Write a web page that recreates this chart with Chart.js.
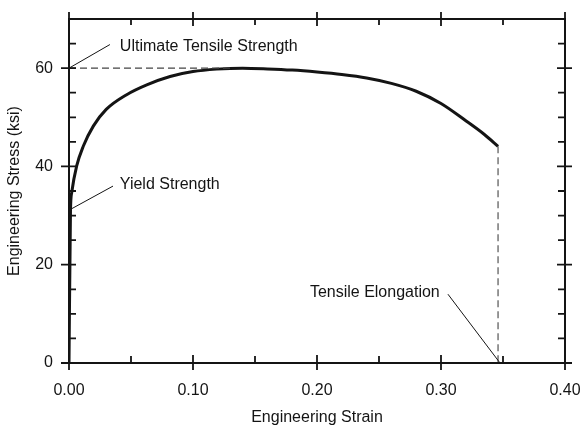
<!DOCTYPE html>
<html><head><meta charset="utf-8">
<script src="https://cdn.jsdelivr.net/npm/chart.js@4"></script>
<style>html,body{margin:0;padding:0;background:#fff}#wrap{width:580px;height:427px}</style>
</head><body><div id="wrap"><canvas id="c" width="580" height="427"></canvas></div>
<script>
// Data
const strain = [0, 0.0012, 0.0022, 0.0062, 0.0115, 0.0196, 0.030, 0.0465, 0.0627, 0.0815, 0.10, 0.119, 0.14, 0.16, 0.18, 0.20, 0.22, 0.24, 0.26, 0.28, 0.30, 0.32, 0.335, 0.346];
const stress = [0, 31.0, 34.7, 40.1, 44.1, 48.2, 51.6, 54.6, 56.6, 58.3, 59.3, 59.8, 60.0, 59.85, 59.6, 59.2, 58.7, 58.0, 56.9, 55.3, 52.8, 49.3, 46.5, 44.1];
const xTicks = [0, 0.1, 0.2, 0.3, 0.4];
const yTicks = [0, 20, 40, 60];
const xMinor = [0.05, 0.15, 0.25, 0.35];
const yMinor = [5, 10, 15, 25, 30, 35, 45, 50, 55, 65];
const utsValue = 60, utsDashEnd = 0.13;
const elongation = 0.346, fractureStress = 44.1;
const annotationText = ["Ultimate Tensile Strength", "Yield Strength", "Tensile Elongation"];
// label anchors in data units: [textX, textY, lineFromX, lineFromY, lineToX, lineToY]
const annotationPos = [
  [0.041, 64.4, 0.0, 60, 0.033, 64.8],
  [0.041, 36.3, 0.0022, 31.4, 0.0355, 36.0],
  [0.299, 14.4, 0.3056, 14.0, 0.3476, 0.0]
];
const xTitle = "Engineering Strain", yTitle = "Engineering Stress (ksi)";

const FONT = "'Liberation Sans', Arial, Helvetica, sans-serif";
const INK = '#141414';

const overlay = {
  id: 'overlay',
  afterDraw(chart) {
    const ctx = chart.ctx, a = chart.chartArea, xs = chart.scales.x, ys = chart.scales.y;
    ctx.save();
    ctx.strokeStyle = '#444'; ctx.lineWidth = 1.1; ctx.setLineDash([7, 4]);
    ctx.beginPath();
    ctx.moveTo(xs.getPixelForValue(0), ys.getPixelForValue(utsValue));
    ctx.lineTo(xs.getPixelForValue(utsDashEnd), ys.getPixelForValue(utsValue));
    ctx.moveTo(xs.getPixelForValue(elongation), ys.getPixelForValue(fractureStress));
    ctx.lineTo(xs.getPixelForValue(elongation), ys.getPixelForValue(0));
    ctx.stroke();
    ctx.setLineDash([]);
    ctx.strokeStyle = INK; ctx.lineWidth = 2;
    ctx.strokeRect(a.left, a.top, a.right - a.left, a.bottom - a.top);
    ctx.lineWidth = 1.8;
    ctx.beginPath();
    xTicks.forEach(v => { const p = xs.getPixelForValue(v);
      ctx.moveTo(p, a.bottom + 7); ctx.lineTo(p, a.bottom - 8);
      ctx.moveTo(p, a.top - 7); ctx.lineTo(p, a.top + 7); });
    xMinor.forEach(v => { const p = xs.getPixelForValue(v);
      ctx.moveTo(p, a.bottom); ctx.lineTo(p, a.bottom - 7);
      ctx.moveTo(p, a.top); ctx.lineTo(p, a.top + 6); });
    yTicks.forEach(v => { const p = ys.getPixelForValue(v);
      ctx.moveTo(a.left - 8, p); ctx.lineTo(a.left + 7, p);
      ctx.moveTo(a.right - 8, p); ctx.lineTo(a.right + 7, p); });
    yMinor.forEach(v => { const p = ys.getPixelForValue(v);
      ctx.moveTo(a.left, p); ctx.lineTo(a.left + 7, p);
      ctx.moveTo(a.right, p); ctx.lineTo(a.right - 7, p); });
    ctx.stroke();
    ctx.lineWidth = 1; ctx.strokeStyle = INK; ctx.fillStyle = INK;
    ctx.font = '16px ' + FONT; ctx.textBaseline = 'middle';
    annotationPos.forEach((p, i) => {
      ctx.beginPath();
      ctx.moveTo(xs.getPixelForValue(p[2]), ys.getPixelForValue(p[3]));
      ctx.lineTo(xs.getPixelForValue(p[4]), ys.getPixelForValue(p[5]));
      ctx.stroke();
      ctx.textAlign = i === 2 ? 'right' : 'left';
      ctx.fillText(annotationText[i], xs.getPixelForValue(p[0]), ys.getPixelForValue(p[1]));
    });
    ctx.textAlign = 'center';
    ctx.fillText(xTitle, (a.left + a.right) / 2, 418);
    ctx.save();
    ctx.translate(15, (a.top + a.bottom) / 2);
    ctx.rotate(-Math.PI / 2);
    ctx.fillText(yTitle, 0, 0);
    ctx.restore();
    ctx.restore();
  }
};

new Chart(document.getElementById('c'), {
  type: 'line',
  data: { datasets: [{
    data: strain.map((s, i) => ({ x: s, y: stress[i] })),
    borderColor: INK, borderWidth: 3, pointRadius: 0, fill: false,
    cubicInterpolationMode: 'monotone'
  }]},
  options: {
    responsive: false, animation: false, devicePixelRatio: 1,
    layout: { padding: { left: 0, right: 15, top: 19, bottom: 0 } },
    plugins: { legend: { display: false }, tooltip: { enabled: false } },
    scales: {
      x: { type: 'linear', min: 0, max: 0.4,
        afterBuildTicks: s => { s.ticks = xTicks.map(v => ({ value: v })); },
        afterFit: s => { s.height = 64; s.paddingLeft = 0; s.paddingRight = 0; },
        grid: { display: false, drawTicks: false }, border: { display: false },
        ticks: { padding: 18, color: INK, font: { family: FONT, size: 16 }, maxRotation: 0,
          callback: v => Number(v).toFixed(2) } },
      y: { type: 'linear', min: 0, max: 70,
        afterBuildTicks: s => { s.ticks = yTicks.map(v => ({ value: v })); },
        afterFit: s => { s.width = 69; s.paddingTop = 0; s.paddingBottom = 0; },
        grid: { display: false, drawTicks: false }, border: { display: false },
        ticks: { padding: 16, color: INK, font: { family: FONT, size: 16 } } }
    }
  },
  plugins: [overlay]
});
</script></body></html>
